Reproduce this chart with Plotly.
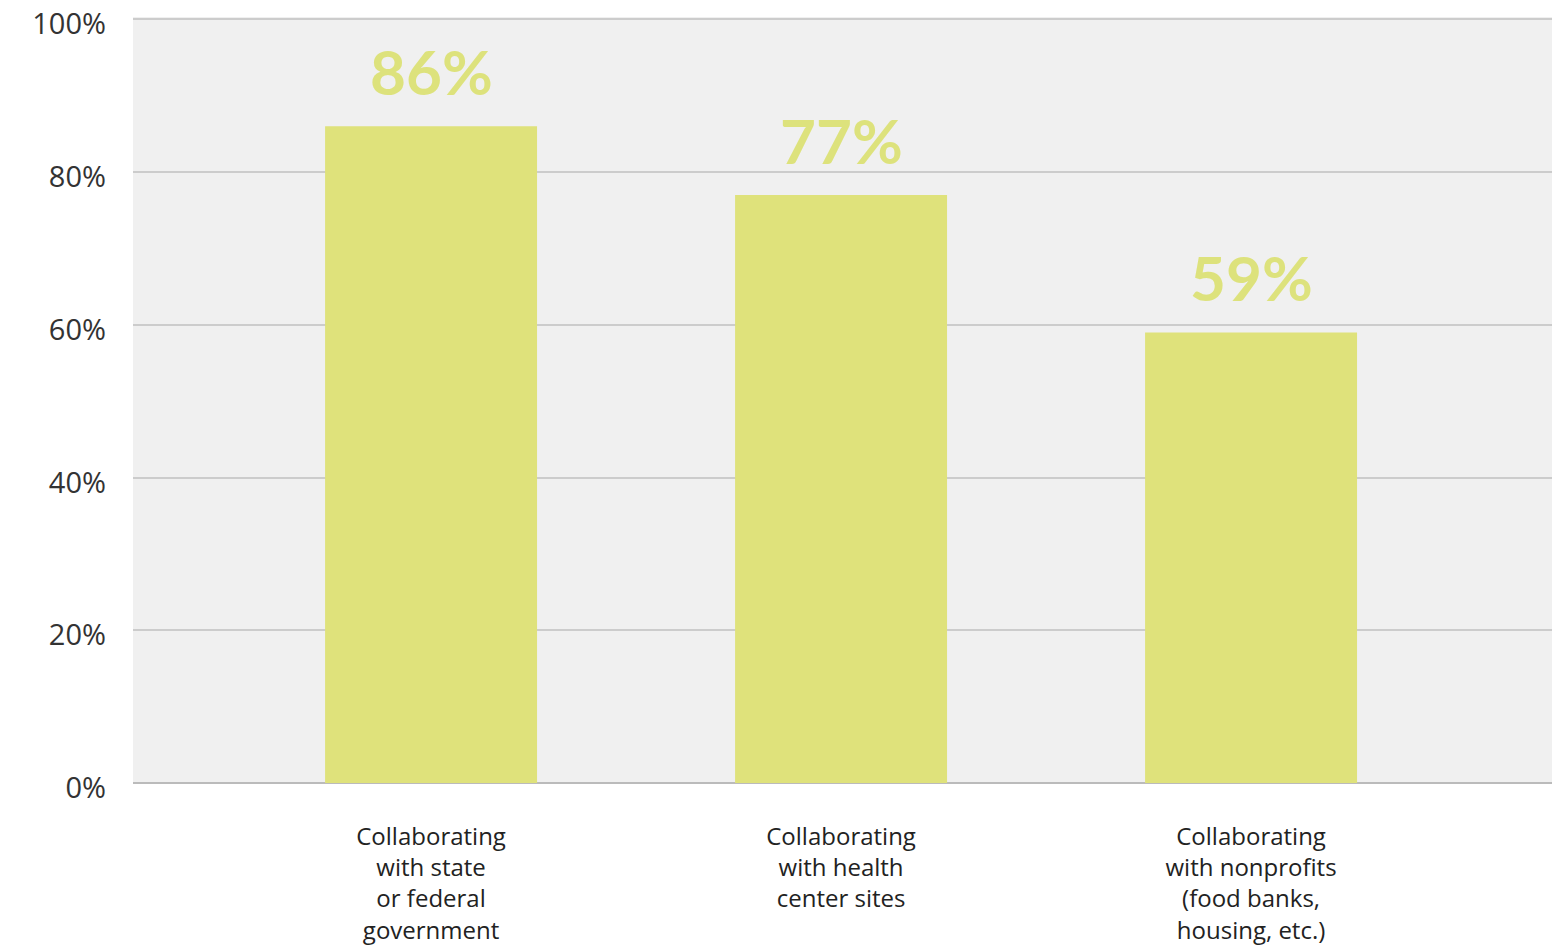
import plotly.graph_objects as go

categories = ["Collaborating<br>with state<br>or federal<br>government",
              "Collaborating<br>with health<br>center sites",
              "Collaborating<br>with nonprofits<br>(food banks,<br>housing, etc.)"]
values = [86, 77, 59]
value_labels = ["86%", "77%", "59%"]
y_ticks = [0, 20, 40, 60, 80, 100]
y_ticktext = ["0%", "20%", "40%", "60%", "80%", "100%"]

BAR = "#dfe27b"
x_pos = list(range(len(categories)))

fig = go.Figure()
fig.add_trace(go.Bar(x=x_pos, y=values, marker=dict(color=BAR, line=dict(width=0)),
                     width=0.517, hoverinfo="skip", showlegend=False))

for xp, v, t in zip(x_pos, values, value_labels):
    fig.add_annotation(x=xp, y=v, text=f"<b>{t}</b>", showarrow=False,
                       yanchor="bottom", yshift=16,
                       font=dict(family="Lato", size=62, color="#dde27c"))

fig.update_layout(
    width=1556, height=946,
    margin=dict(l=133, r=4, t=17, b=163),
    paper_bgcolor="white", plot_bgcolor="#f0f0f0",
    font=dict(family="Open Sans", color="#222222"),
    xaxis=dict(range=[-0.727, 2.734], tickvals=x_pos, ticktext=categories,
               showgrid=False, zeroline=False, showline=False, ticks="", automargin=False,
               tickfont=dict(family="Open Sans", size=24, color="#222222"), ticklabelstandoff=37),
    yaxis=dict(range=[0, 100.3], tickvals=y_ticks, ticktext=y_ticktext,
               showgrid=True, gridcolor="#cccccc", gridwidth=2,
               zeroline=True, zerolinecolor="#bbbbbb", zerolinewidth=2,
               ticklabeloverflow="allow", automargin=False, ticklabelshift=5,
               tickfont=dict(family="Open Sans", size=29, color="#333333"), ticks="", ticklabelstandoff=26),
)

fig.write_html("out.html")
